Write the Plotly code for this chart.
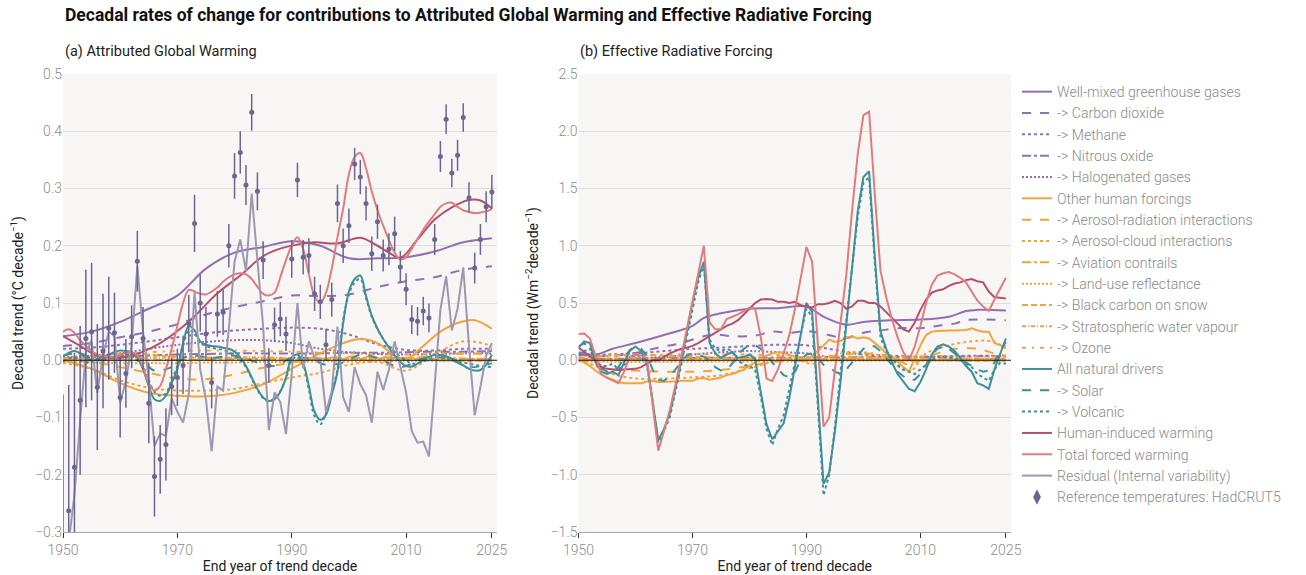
import plotly.graph_objects as go

YEARS = list(range(1950, 2026))
K5 = list(range(1950, 2026, 5))

# ---------------- (a) Attributed global warming trends (°C per decade) ----------------
AGW_OBS = [
    -0.350, -0.263, -0.187, -0.070, 0.038, 0.050, -0.047, 0.016, 0.056, 0.048,
    -0.065, -0.023, 0.041, 0.173, 0.038, -0.075, -0.203, -0.173, -0.147, -0.046,
    -0.030, -0.009, 0.064, 0.239, 0.100, 0.046, -0.039, 0.081, 0.084, 0.200,
    0.322, 0.363, 0.306, 0.433, 0.295, 0.175, -0.009, 0.062, 0.072, 0.046,
    0.177, 0.315, 0.180, 0.183, 0.116, 0.102, 0.027, 0.106, 0.274, 0.200,
    0.235, 0.343, 0.320, 0.274, 0.186, 0.242, 0.183, 0.194, 0.221, 0.163,
    0.124, 0.071, 0.068, 0.086, 0.074, 0.211, 0.356, 0.421, 0.327, 0.358,
    0.424, 0.284, 0.161, 0.211, 0.268, 0.294,
]
AGW_OBS_ERR = [
    0.29, 0.22, 0.20, 0.13, 0.12, 0.12, 0.11, 0.10, 0.09, 0.07,
    0.07, 0.06, 0.055, 0.053, 0.055, 0.07, 0.07, 0.06, 0.063, 0.05,
    0.05, 0.05, 0.05, 0.05, 0.05, 0.047, 0.045, 0.04, 0.04, 0.038,
    0.04, 0.037, 0.035, 0.032, 0.033, 0.033, 0.03, 0.03, 0.03, 0.03,
    0.033, 0.03, 0.03, 0.03, 0.03, 0.03, 0.028, 0.03, 0.033, 0.03,
    0.03, 0.028, 0.03, 0.03, 0.03, 0.03, 0.028, 0.028, 0.03, 0.028,
    0.028, 0.025, 0.025, 0.025, 0.025, 0.027, 0.027, 0.026, 0.025, 0.027,
    0.025, 0.027, 0.027, 0.027, 0.027, 0.03,
]
AGW_RESIDUAL = [
    -0.400, -0.317, -0.235, -0.105, 0.013, 0.034, -0.057, 0.009, 0.050, 0.042,
    -0.074, -0.036, 0.027, 0.165, 0.050, -0.035, -0.150, -0.128, -0.132, -0.066,
    -0.090, -0.109, -0.059, 0.119, -0.016, -0.069, -0.159, -0.046, -0.053, 0.055,
    0.172, 0.211, 0.156, 0.291, 0.167, 0.059, -0.122, -0.056, -0.073, -0.129,
    -0.023, 0.100, -0.014, 0.033, 0.004, 0.002, -0.091, -0.054, 0.059, -0.065,
    -0.090, -0.012, -0.042, -0.061, -0.109, -0.020, -0.052, -0.016, 0.033, -0.013,
    -0.056, -0.124, -0.144, -0.142, -0.168, -0.044, 0.088, 0.147, 0.052, 0.090,
    0.162, 0.025, -0.096, -0.047, 0.008, 0.030,
]
AGW_TOTAL = [
    0.050, 0.054, 0.048, 0.035, 0.025, 0.016, 0.010, 0.007, 0.006, 0.006,
    0.009, 0.013, 0.014, 0.008, -0.012, -0.040, -0.053, -0.045, -0.015, 0.020,
    0.060, 0.100, 0.123, 0.120, 0.116, 0.115, 0.120, 0.127, 0.137, 0.145,
    0.150, 0.152, 0.150, 0.142, 0.128, 0.116, 0.113, 0.118, 0.145, 0.175,
    0.200, 0.215, 0.194, 0.150, 0.112, 0.100, 0.118, 0.160, 0.215, 0.265,
    0.325, 0.355, 0.362, 0.335, 0.295, 0.262, 0.235, 0.210, 0.188, 0.176,
    0.180, 0.195, 0.212, 0.228, 0.242, 0.255, 0.268, 0.274, 0.275, 0.268,
    0.262, 0.259, 0.257, 0.258, 0.260, 0.264,
]
AGW_NATURAL = [
    0.006, 0.013, 0.016, 0.012, 0.004, 0.000, 0.002, 0.006, 0.010, 0.014,
    0.017, 0.016, 0.014, 0.005, -0.016, -0.045, -0.068, -0.071, -0.062, -0.040,
    -0.015, 0.030, 0.060, 0.052, 0.033, 0.027, 0.025, 0.024, 0.022, 0.020,
    0.015, 0.005, -0.010, -0.030, -0.050, -0.065, -0.071, -0.068, -0.055, -0.030,
    0.005, 0.010, -0.005, -0.045, -0.090, -0.104, -0.095, -0.060, -0.020, 0.065,
    0.120, 0.142, 0.148, 0.112, 0.078, 0.055, 0.037, 0.022, 0.008, -0.003,
    -0.010, -0.011, -0.006, 0.000, 0.006, 0.009, 0.009, 0.007, 0.003, -0.003,
    -0.009, -0.015, -0.018, -0.017, -0.008, 0.010,
]
AGW_VOLCANIC = [
    -0.002, 0.003, 0.005, 0.000, -0.004, -0.003, 0.002, 0.004, 0.005, 0.007,
    0.010, 0.010, 0.008, 0.000, -0.012, -0.035, -0.055, -0.062, -0.058, -0.034,
    -0.010, 0.025, 0.052, 0.047, 0.030, 0.025, 0.022, 0.020, 0.018, 0.014,
    0.008, 0.000, -0.012, -0.032, -0.052, -0.066, -0.072, -0.066, -0.054, -0.032,
    0.000, 0.006, -0.008, -0.052, -0.098, -0.112, -0.092, -0.056, -0.016, 0.070,
    0.115, 0.136, 0.142, 0.108, 0.076, 0.054, 0.037, 0.024, 0.015, 0.006,
    0.000, -0.006, -0.005, -0.002, 0.002, 0.005, 0.006, 0.004, 0.001, -0.002,
    -0.004, -0.006, -0.008, -0.010, -0.011, -0.012,
]
AGW_SOLAR_YEARS = [1950, 1953, 1956, 1960, 1963, 1966, 1969, 1972, 1976, 1980, 1984, 1987,
                   1990, 1993, 1996, 1999, 2002, 2005, 2009, 2013, 2017, 2021, 2025]
AGW_SOLAR = [0.008, 0.012, 0.000, 0.008, 0.006, -0.018, -0.012, 0.008, 0.004, 0.008, -0.004, -0.010,
             0.004, 0.003, -0.008, -0.004, 0.010, 0.004, -0.012, 0.003, 0.004, -0.012, -0.005]
AGW_HUMAN_YEARS = [1950, 1953, 1956, 1960, 1964, 1967, 1970, 1973, 1977, 1981, 1985, 1988, 1991,
                   1994, 1998, 2002, 2005, 2007, 2009, 2012, 2015, 2018, 2021, 2023, 2025]
AGW_HUMAN = [0.042, 0.025, 0.008, 0.004, 0.015, 0.030, 0.051, 0.077, 0.117, 0.148, 0.182, 0.195, 0.202,
             0.206, 0.204, 0.214, 0.200, 0.188, 0.179, 0.211, 0.246, 0.267, 0.280, 0.279, 0.265]
AGW_OTHER_YEARS = [1950, 1955, 1960, 1965, 1970, 1975, 1980, 1985, 1990, 1995,
                   1999, 2002, 2005, 2008, 2010, 2013, 2016, 2019, 2022, 2025]
AGW_OTHER = [0.000, -0.015, -0.040, -0.057, -0.062, -0.063, -0.057, -0.042, -0.015, 0.012,
             0.030, 0.037, 0.030, 0.008, 0.002, 0.025, 0.050, 0.065, 0.070, 0.055]
# five-yearly values for the slowly varying contributions
AGW_WMGHG = [0.042, 0.050, 0.067, 0.090, 0.113, 0.160, 0.188, 0.198, 0.208, 0.200, 0.178, 0.178, 0.180, 0.190, 0.206, 0.213]
AGW_CO2 = [0.025, 0.030, 0.040, 0.050, 0.063, 0.080, 0.093, 0.103, 0.113, 0.112, 0.115, 0.128, 0.138, 0.145, 0.158, 0.164]
AGW_CH4 = [0.020, 0.022, 0.027, 0.033, 0.040, 0.047, 0.052, 0.055, 0.057, 0.055, 0.045, 0.028, 0.018, 0.017, 0.020, 0.020]
AGW_N2O = [0.004, 0.005, 0.006, 0.008, 0.010, 0.011, 0.012, 0.012, 0.012, 0.012, 0.013, 0.013, 0.014, 0.015, 0.015, 0.016]
AGW_HALO = [0.005, 0.008, 0.012, 0.020, 0.027, 0.032, 0.035, 0.035, 0.030, 0.020, 0.014, 0.011, 0.010, 0.011, 0.012, 0.012]
AGW_ARI = [0.000, -0.003, -0.012, -0.022, -0.032, -0.033, -0.025, -0.013, -0.004, 0.003, 0.006, 0.006, 0.004, 0.008, 0.012, 0.010]
AGW_ACI = [-0.005, -0.015, -0.035, -0.048, -0.053, -0.053, -0.050, -0.040, -0.030, -0.022, -0.008, -0.003, -0.018, 0.010, 0.033, 0.025]
AGW_CONTRAIL = [0.000, 0.000, 0.000, 0.000, 0.001, 0.001, 0.002, 0.002, 0.003, 0.003, 0.004, 0.004, 0.004, 0.005, 0.003, 0.002]
AGW_LANDUSE = [-0.003, -0.004, -0.005, -0.005, -0.005, -0.004, -0.004, -0.003, -0.003, -0.002, -0.002, -0.002, -0.001, -0.001, -0.001, -0.001]
AGW_BC = [0.003, 0.008, 0.012, 0.010, 0.006, 0.004, 0.004, 0.003, 0.002, 0.001, 0.002, 0.003, 0.002, 0.000, -0.001, -0.001]
AGW_H2O = [0.001, 0.002, 0.003, 0.004, 0.005, 0.005, 0.005, 0.005, 0.004, 0.003, 0.002, 0.002, 0.002, 0.002, 0.002, 0.002]
AGW_O3 = [0.003, 0.006, 0.010, 0.014, 0.016, 0.017, 0.017, 0.016, 0.015, 0.013, 0.012, 0.011, 0.010, 0.011, 0.012, 0.012]

# ---------------- (b) Effective radiative forcing trends (W m-2 per decade) ----------------
ERF_TOTAL = [
    0.23, 0.233, 0.19, 0.04, -0.12, -0.155, -0.175, -0.2, -0.1, 0.03,
    0.05, 0.04, 0.02, -0.38, -0.79, -0.62, -0.44, -0.22, 0.02, 0.28,
    0.52, 0.77, 1.0, 0.33, 0.27, 0.27, 0.36, 0.38, 0.4, 0.43,
    0.46, 0.45, 0.2, -0.16, -0.18, -0.08, 0.06, 0.22, 0.45, 0.72,
    0.99, 0.86, 0.1, -0.58, -0.5, -0.08, 0.3, 0.75, 1.3, 1.8,
    2.14, 2.17, 1.45, 0.78, 0.55, 0.36, 0.2, 0.07, 0.0, 0.12,
    0.3, 0.5, 0.66, 0.74, 0.76, 0.77, 0.75, 0.72, 0.68, 0.6,
    0.52, 0.47, 0.43, 0.53, 0.63, 0.72,
]
ERF_HUMAN = [
    0.11, 0.07, 0.035, 0.0, -0.06, -0.075, -0.08, -0.085, -0.08, -0.08,
    -0.075, -0.06, -0.03, 0.0, 0.0, 0.03, 0.06, 0.08, 0.1, 0.11,
    0.125, 0.15, 0.18, 0.21, 0.24, 0.27, 0.3, 0.32, 0.35, 0.4,
    0.45, 0.5, 0.53, 0.535, 0.53, 0.51, 0.51, 0.5, 0.51, 0.48,
    0.47, 0.46, 0.49, 0.49, 0.5, 0.52, 0.5, 0.45, 0.47, 0.52,
    0.52, 0.5, 0.5, 0.47, 0.42, 0.37, 0.32, 0.27, 0.25, 0.33,
    0.44, 0.53, 0.59, 0.61, 0.62, 0.65, 0.67, 0.68, 0.7, 0.71,
    0.69, 0.68, 0.6, 0.55, 0.545, 0.54,
]
ERF_NATURAL = [
    0.11, 0.165, 0.15, -0.02, -0.1, -0.12, -0.1, -0.13, -0.02, 0.08,
    0.12, 0.08, -0.02, -0.37, -0.7, -0.6, -0.47, -0.25, -0.02, 0.24,
    0.5, 0.72, 0.86, 0.15, 0.06, 0.02, 0.05, 0.07, 0.02, 0.03,
    0.05, 0.01, -0.28, -0.56, -0.69, -0.62, -0.55, -0.33, -0.05, 0.22,
    0.5, 0.42, -0.35, -1.08, -0.98, -0.62, -0.18, 0.3, 0.8, 1.3,
    1.6, 1.65, 0.9, 0.25, 0.1, -0.02, -0.12, -0.19, -0.25, -0.27,
    -0.19, -0.08, 0.05, 0.12, 0.14, 0.12, 0.08, 0.02, -0.05, -0.1,
    -0.2, -0.22, -0.25, -0.08, 0.05, 0.19,
]
ERF_VOLCANIC = [
    0.05, 0.08, 0.1, 0.0, -0.05, -0.05, -0.03, -0.08, -0.04, 0.02,
    0.05, 0.03, -0.04, -0.35, -0.72, -0.62, -0.5, -0.28, -0.05, 0.2,
    0.45, 0.68, 0.84, 0.18, 0.1, 0.08, 0.1, 0.08, 0.0, -0.04,
    -0.05, -0.08, -0.32, -0.6, -0.74, -0.6, -0.48, -0.25, 0.0, 0.2,
    0.45, 0.38, -0.4, -1.18, -1.0, -0.58, -0.1, 0.35, 0.8, 1.25,
    1.55, 1.6, 0.85, 0.2, 0.08, 0.02, -0.04, -0.08, -0.1, -0.12,
    -0.08, -0.04, 0.0, 0.03, 0.03, 0.02, 0.02, 0.0, -0.03, -0.06,
    -0.12, -0.15, -0.18, -0.08, -0.02, -0.03,
]
ERF_SOLAR = [
    0.12, 0.15, 0.1, 0.0, -0.07, -0.1, -0.1, -0.06, 0.02, 0.09,
    0.12, 0.1, 0.04, -0.08, -0.17, -0.18, -0.14, -0.08, -0.02, 0.04,
    0.06, 0.05, 0.03, 0.0, -0.06, -0.09, -0.08, -0.03, 0.05, 0.1,
    0.13, 0.13, 0.1, 0.05, -0.02, -0.08, -0.13, -0.15, -0.1, 0.0,
    0.05, 0.06, 0.02, -0.04, -0.06, -0.1, -0.12, -0.08, -0.02, 0.05,
    0.1, 0.13, 0.12, 0.08, 0.02, -0.05, -0.1, -0.14, -0.17, -0.17,
    -0.12, -0.04, 0.05, 0.1, 0.12, 0.1, 0.06, 0.02, -0.02, -0.05,
    -0.08, -0.1, -0.09, -0.02, 0.08, 0.16,
]
ERF_OTHER = [
    0.01, -0.02, -0.05, -0.09, -0.125, -0.15, -0.17, -0.19, -0.2, -0.2,
    -0.2, -0.2, -0.185, -0.18, -0.19, -0.19, -0.19, -0.185, -0.18, -0.18,
    -0.18, -0.16, -0.155, -0.17, -0.16, -0.15, -0.13, -0.12, -0.1, -0.08,
    -0.05, -0.02, 0.01, 0.04, 0.06, 0.07, 0.065, 0.05, 0.03, 0.01,
    -0.01, 0.04, 0.08, 0.13, 0.18, 0.16, 0.17, 0.2, 0.21, 0.19,
    0.2, 0.19, 0.15, 0.11, 0.06, 0.03, -0.01, -0.06, -0.1, 0.02,
    0.13, 0.22, 0.25, 0.255, 0.26, 0.26, 0.26, 0.26, 0.265, 0.28,
    0.26, 0.25, 0.25, 0.15, 0.13, 0.12,
]
ERF_WMGHG_YEARS = [1950, 1953, 1956, 1960, 1965, 1970, 1972, 1975, 1980, 1985,
                   1990, 1993, 1997, 2000, 2005, 2010, 2015, 2018, 2020, 2025]
ERF_WMGHG = [0.07, 0.05, 0.1, 0.15, 0.22, 0.3, 0.37, 0.41, 0.45, 0.455,
             0.47, 0.38, 0.31, 0.335, 0.35, 0.355, 0.38, 0.43, 0.44, 0.435]
ERF_CO2_YEARS = [1950, 1955, 1960, 1964, 1968, 1972, 1974, 1977, 1981, 1984, 1987, 1990,
                 1993, 1997, 2000, 2003, 2006, 2010, 2013, 2016, 2018, 2021, 2025]
ERF_CO2 = [0.05, 0.035, 0.064, 0.11, 0.15, 0.21, 0.225, 0.21, 0.215, 0.25, 0.24, 0.255,
           0.23, 0.195, 0.24, 0.26, 0.28, 0.28, 0.3, 0.32, 0.35, 0.355, 0.35]
ERF_ARI_YEARS = [1950, 1953, 1956, 1960, 1965, 1970, 1975, 1980, 1985, 1990,
                 1995, 2000, 2005, 2008, 2010, 2013, 2016, 2020, 2023, 2025]
ERF_ARI = [0.0, -0.04, -0.08, -0.09, -0.1, -0.1, -0.085, -0.05, -0.01, 0.0,
           0.04, 0.06, 0.03, -0.04, 0.0, 0.06, 0.1, 0.1, 0.06, 0.04]
ERF_ACI_YEARS = [1950, 1953, 1956, 1960, 1965, 1970, 1975, 1980, 1985, 1988,
                 1991, 1995, 2000, 2004, 2008, 2011, 2015, 2020, 2023, 2025]
ERF_ACI = [0.0, -0.05, -0.12, -0.16, -0.16, -0.15, -0.13, -0.07, 0.0, 0.01,
           -0.03, 0.05, 0.07, 0.02, -0.1, 0.06, 0.13, 0.17, 0.16, 0.1]
ERF_CH4 = [0.04, 0.05, 0.06, 0.08, 0.1, 0.11, 0.125, 0.135, 0.13, 0.09, 0.05, 0.04, 0.03, 0.035, 0.04, 0.035]
ERF_N2O = [0.01, 0.012, 0.015, 0.018, 0.02, 0.022, 0.024, 0.025, 0.025, 0.026, 0.027, 0.028, 0.03, 0.032, 0.034, 0.035]
ERF_HALO = [0.0, 0.005, 0.015, 0.03, 0.05, 0.07, 0.08, 0.07, 0.06, 0.02, 0.01, 0.005, 0.0, 0.005, 0.01, 0.01]
ERF_CONTRAIL = [0.0, 0.0, 0.0, 0.0, 0.005, 0.008, 0.01, 0.012, 0.015, 0.015, 0.02, 0.015, 0.01, 0.012, 0.01, 0.012]
ERF_LANDUSE = [-0.01, -0.012, -0.015, -0.015, -0.012, -0.01, -0.01, -0.008, -0.008, -0.005, -0.005, -0.005, -0.004, -0.004, -0.004, -0.004]
ERF_BC = [0.02, 0.04, 0.05, 0.04, 0.03, 0.02, 0.015, 0.01, 0.005, 0.005, 0.01, 0.01, 0.005, 0.0, -0.005, -0.005]
ERF_H2O = [0.005, 0.008, 0.01, 0.012, 0.015, 0.015, 0.015, 0.015, 0.012, 0.01, 0.008, 0.006, 0.006, 0.006, 0.006, 0.006]
ERF_O3 = [0.02, 0.03, 0.04, 0.05, 0.055, 0.05, 0.05, 0.045, 0.04, 0.035, 0.03, 0.03, 0.03, 0.03, 0.03, 0.03]

# ---------------- styling ----------------
PURPLE = "#8f70b3"
ORANGE = "#f1a43a"
TEAL = "#3f8f9a"
HUMAN = "#b4506f"
TOTAL = "#e07c7c"
RESID = "#9c98b0"
OBS = "#6a6690"
FONT = "Roboto"

DENSE_DOT = "2px,2px"
SERIES = [
    ("Well-mixed greenhouse gases", PURPLE, "solid", (K5, AGW_WMGHG), (ERF_WMGHG_YEARS, ERF_WMGHG)),
    ("-> Carbon dioxide", PURPLE, "dash", (K5, AGW_CO2), (ERF_CO2_YEARS, ERF_CO2)),
    ("-> Methane", PURPLE, "dot", (K5, AGW_CH4), (K5, ERF_CH4)),
    ("-> Nitrous oxide", PURPLE, "dashdot", (K5, AGW_N2O), (K5, ERF_N2O)),
    ("-> Halogenated gases", PURPLE, DENSE_DOT, (K5, AGW_HALO), (K5, ERF_HALO)),
    ("Other human forcings", ORANGE, "solid", (AGW_OTHER_YEARS, AGW_OTHER), (YEARS, ERF_OTHER)),
    ("-> Aerosol-radiation interactions", ORANGE, "dash", (K5, AGW_ARI), (ERF_ARI_YEARS, ERF_ARI)),
    ("-> Aerosol-cloud interactions", ORANGE, "dot", (K5, AGW_ACI), (ERF_ACI_YEARS, ERF_ACI)),
    ("-> Aviation contrails", ORANGE, "dashdot", (K5, AGW_CONTRAIL), (K5, ERF_CONTRAIL)),
    ("-> Land-use reflectance", ORANGE, DENSE_DOT, (K5, AGW_LANDUSE), (K5, ERF_LANDUSE)),
    ("-> Black carbon on snow", ORANGE, "6px,3px", (K5, AGW_BC), (K5, ERF_BC)),
    ("-> Stratospheric water vapour", ORANGE, "4px,2px,1px,2px", (K5, AGW_H2O), (K5, ERF_H2O)),
    ("-> Ozone", ORANGE, "4px,6px,2px,6px", (K5, AGW_O3), (K5, ERF_O3)),
    ("All natural drivers", TEAL, "solid", (YEARS, AGW_NATURAL), (YEARS, ERF_NATURAL)),
    ("-> Solar", TEAL, "dash", (AGW_SOLAR_YEARS, AGW_SOLAR), (YEARS, ERF_SOLAR)),
    ("-> Volcanic", TEAL, "dot", (YEARS, AGW_VOLCANIC), (YEARS, ERF_VOLCANIC)),
    ("Human-induced warming", HUMAN, "solid", (AGW_HUMAN_YEARS, AGW_HUMAN), (YEARS, ERF_HUMAN)),
    ("Total forced warming", TOTAL, "solid", (YEARS, AGW_TOTAL), (YEARS, ERF_TOTAL)),
    ("Residual (Internal variability)", RESID, "solid", (YEARS, AGW_RESIDUAL), None),
]

fig = go.Figure()

for name, color, dash, a_data, b_data in SERIES:
    a_shape = "linear" if name.startswith("Residual") else "spline"
    fig.add_trace(go.Scatter(
        x=a_data[0], y=a_data[1], mode="lines", name=name, legendgroup=name,
        line=dict(color=color, dash=dash, width=2, shape=a_shape),
        xaxis="x", yaxis="y", hoverinfo="skip"))
    if b_data is not None:
        b_shape = "linear" if b_data[0] is YEARS else "spline"
        fig.add_trace(go.Scatter(
            x=b_data[0], y=b_data[1], mode="lines", name=name, legendgroup=name,
            showlegend=False,
            line=dict(color=color, dash=dash, width=2, shape=b_shape),
            xaxis="x2", yaxis="y2", hoverinfo="skip"))

# observed decadal trends with uncertainty
fig.add_trace(go.Scatter(
    x=YEARS, y=AGW_OBS, mode="markers", name="Reference temperatures: HadCRUT5",
    legendgroup="obs", showlegend=False,
    marker=dict(color=OBS, size=5),
    error_y=dict(type="data", array=AGW_OBS_ERR, visible=True, color=OBS, thickness=1.5, width=0),
    xaxis="x", yaxis="y", hoverinfo="skip"))
# legend key for the observations (point with bar)
fig.add_trace(go.Scatter(
    x=[None], y=[None], mode="markers", name="Reference temperatures: HadCRUT5",
    legendgroup="obs", marker=dict(color=OBS, size=11, symbol="diamond-tall"),
    xaxis="x", yaxis="y"))

W, H = 1306, 575
XA = [63 / W, 497 / W]
XB = [578.5 / W, 1011 / W]
YD = [1 - 532 / H, 1 - 74 / H]

tick_font = dict(family=FONT, size=14, color="#8c8c8c", weight=300)
title_font = dict(family=FONT, size=14, color="#222222")

xcommon = dict(
    range=[1950, 2025.9], tickvals=[1950, 1970, 1990, 2010, 2025], ticks="outside",
    ticklen=5, tickcolor="#333333", tickwidth=1, showline=True, linecolor="#a8a8a8",
    linewidth=1, showgrid=False, zeroline=False, tickfont=tick_font,
    title=dict(text="End year of trend decade", font=title_font, standoff=4),
    automargin=False, fixedrange=True)
ycommon = dict(showgrid=True, gridcolor="#e0dedb", gridwidth=1, zeroline=False,
               showline=False, ticks="", tickfont=tick_font, tickformat=".1f",
               automargin=False, fixedrange=True)

fig.update_layout(
    width=W, height=H,
    margin=dict(l=0, r=0, t=0, b=0),
    paper_bgcolor="white", plot_bgcolor="#f7f6f4",
    font=dict(family=FONT, color="#222222"),
    xaxis=dict(domain=XA, anchor="y", **xcommon),
    xaxis2=dict(domain=XB, anchor="y2", **xcommon),
    yaxis=dict(domain=YD, anchor="x", range=[-0.3, 0.5], dtick=0.1,
               title=dict(text="Decadal trend (°C decade<sup>−1</sup>)", font=title_font, standoff=8),
               **ycommon),
    yaxis2=dict(domain=YD, anchor="x2", range=[-1.5, 2.5], dtick=0.5,
                title=dict(text="Decadal trend (Wm<sup>−2</sup>decade<sup>−1</sup>)", font=title_font, standoff=8),
                **ycommon),
    legend=dict(x=1017 / W, xanchor="left", y=1 - 76 / H, yanchor="top",
                font=dict(family=FONT, size=14.1, color="#8a8a8a", weight=300),
                bgcolor="rgba(0,0,0,0)", tracegroupgap=0, itemwidth=30,
                traceorder="normal"),
    showlegend=True,
    shapes=[
        dict(type="line", xref="x domain", yref="y", x0=0, x1=1, y0=0, y1=0,
             line=dict(color="#1a1a1a", width=1), layer="above"),
        dict(type="line", xref="x2 domain", yref="y2", x0=0, x1=1, y0=0, y1=0,
             line=dict(color="#1a1a1a", width=1), layer="above"),
    ],
    annotations=[
        dict(text="<b>Decadal rates of change for contributions to Attributed Global Warming and Effective Radiative Forcing</b>",
             xref="paper", yref="paper", x=63 / W, y=1 - 15 / H, xanchor="left", yanchor="middle",
             showarrow=False, font=dict(family=FONT, size=17.5, color="#111111")),
        dict(text="(a) Attributed Global Warming", xref="paper", yref="paper",
             x=63 / W, y=1 - 51 / H, xanchor="left", yanchor="middle", showarrow=False,
             font=dict(family=FONT, size=14.5, color="#222222")),
        dict(text="(b) Effective Radiative Forcing", xref="paper", yref="paper",
             x=578 / W, y=1 - 51 / H, xanchor="left", yanchor="middle", showarrow=False,
             font=dict(family=FONT, size=14.5, color="#222222")),
    ],
)

fig.write_html("out.html")
